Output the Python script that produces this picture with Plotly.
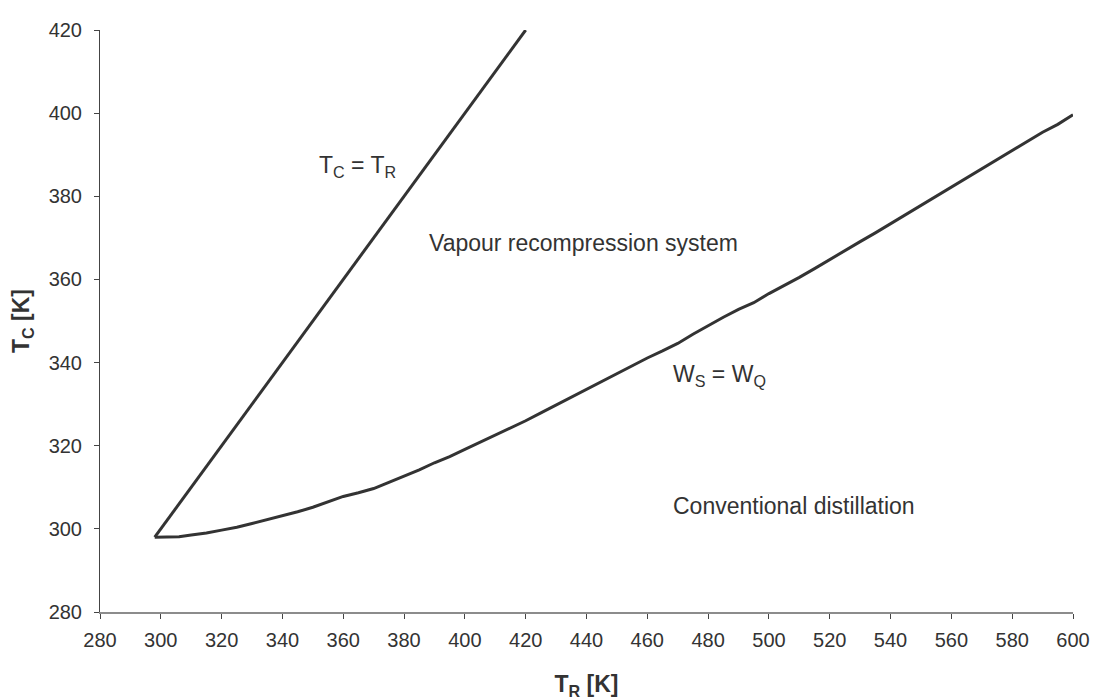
import plotly.graph_objects as go

# Line T_C = T_R
diag_x = [298, 420]
diag_y = [298, 420]

# Curve W_S = W_Q
ws_x = [298, 302, 306, 310, 315, 320, 325, 330, 335, 340, 345, 350, 355, 360, 365, 370,
        375, 380, 385, 390, 395, 400, 405, 410, 415, 420, 425, 430, 435, 440, 445, 450,
        455, 460, 465, 470, 475, 480, 485, 490, 495, 500, 505, 510, 515, 520, 525, 530,
        535, 540, 545, 550, 555, 560, 565, 570, 575, 580, 585, 590, 595, 600]
ws_y = [298.0, 298.0, 298.1, 298.5, 299.0, 299.7, 300.4, 301.3, 302.2, 303.1, 304.1, 305.2,
        306.5, 307.8, 308.7, 309.7, 311.2, 312.7, 314.2, 315.9, 317.4, 319.1, 320.8, 322.5,
        324.2, 326.0, 327.9, 329.8, 331.8, 333.6, 335.6, 337.4, 339.3, 341.1, 342.8, 344.6,
        346.8, 348.9, 350.9, 352.8, 354.4, 356.6, 358.5, 360.5, 362.6, 364.8, 367.1, 369.1,
        371.2, 373.4, 375.6, 377.8, 380.0, 382.2, 384.5, 386.7, 388.8, 391.0, 393.2, 395.4,
        397.3, 399.6]

x_ticks = list(range(280, 601, 20))
y_ticks = list(range(280, 421, 20))

line_color = "#333333"
text_color = "#333333"
font_family = "Liberation Sans, Arial, sans-serif"

fig = go.Figure()
fig.add_trace(go.Scatter(x=diag_x, y=diag_y, mode="lines",
                         line=dict(color=line_color, width=3), showlegend=False))
fig.add_trace(go.Scatter(x=ws_x, y=ws_y, mode="lines",
                         line=dict(color=line_color, width=3), showlegend=False))

fig.update_layout(
    width=1100, height=700,
    margin=dict(l=92, r=35, t=11, b=96),
    paper_bgcolor="white", plot_bgcolor="white",
    font=dict(family=font_family, size=20, color=text_color),
    xaxis=dict(range=[280, 600], tickvals=x_ticks, ticks="outside", ticklen=5,
               tickcolor="#444444", showline=True, linecolor="#8c8c8c", linewidth=2,
               showgrid=False, zeroline=False, tickfont=dict(size=20, color=text_color),
               ticklabelstandoff=4,
               title=dict(text="<b>T<sub>R</sub> [K]</b>", font=dict(size=23, color=text_color),
                          standoff=26)),
    yaxis=dict(range=[280, 420], tickvals=y_ticks, ticks="outside", ticklen=5,
               tickcolor="#444444", showline=True, linecolor="#444444", linewidth=1,
               showgrid=False, zeroline=False, tickfont=dict(size=20, color=text_color),
               ticklabelstandoff=8,
               title=dict(text="<b>T<sub>C</sub> [K]</b>", font=dict(size=23, color=text_color),
                          standoff=14)),
)

fig.add_annotation(x=351.4, y=387.2, text="T<sub>C</sub> = T<sub>R</sub>", showarrow=False,
                   xanchor="left", yanchor="middle", font=dict(size=23, color=text_color))
fig.add_annotation(x=387.7, y=368.8, text="Vapour recompression system", showarrow=False,
                   xanchor="left", yanchor="middle", font=dict(size=23, color=text_color))
fig.add_annotation(x=467.7, y=336.9, text="W<sub>S</sub> = W<sub>Q</sub>", showarrow=False,
                   xanchor="left", yanchor="middle", font=dict(size=23, color=text_color))
fig.add_annotation(x=467.7, y=305.5, text="Conventional distillation", showarrow=False,
                   xanchor="left", yanchor="middle", font=dict(size=23, color=text_color))

fig.write_html("out.html")
